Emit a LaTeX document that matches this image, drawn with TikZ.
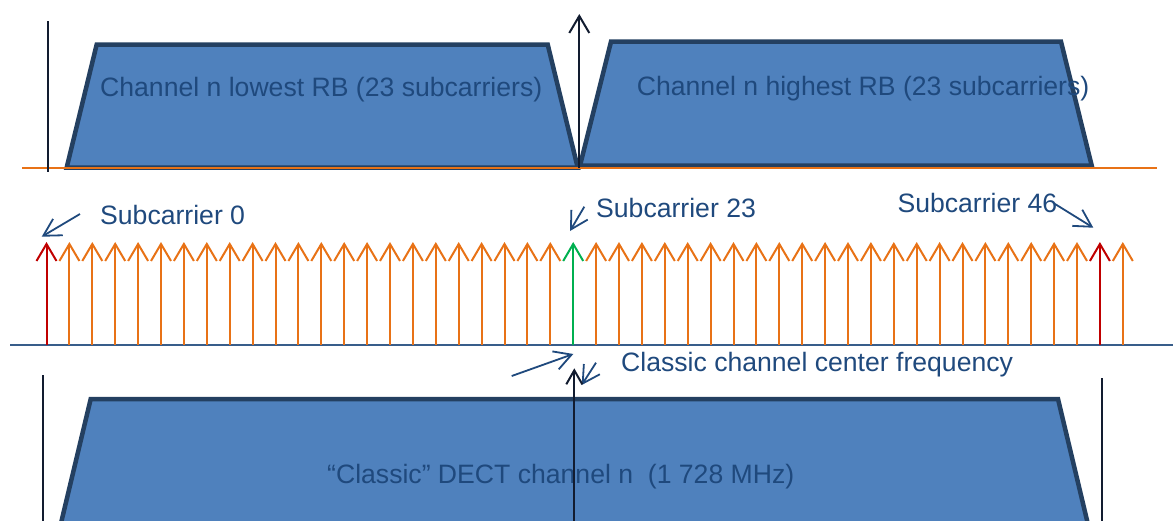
\documentclass[tikz,border=0pt]{standalone}
\usepackage{fontspec}
\setmainfont{Liberation Sans}
\usepackage{tikz}
\usetikzlibrary{arrows.meta}
\definecolor{dcfill}{RGB}{79,129,189}
\definecolor{dcedge}{RGB}{36,64,97}
\definecolor{dctext}{RGB}{31,73,125}
\definecolor{dcorange}{RGB}{232,114,22}
\definecolor{dcred}{RGB}{192,0,0}
\definecolor{dcgreen}{RGB}{0,176,80}
\definecolor{dcbase}{RGB}{56,93,138}
\definecolor{dcdark}{RGB}{18,28,48}
\tikzset{
  dcband/.style={
    draw=dcedge,
    fill=dcfill,
    line width=4.5pt
  },
  dclabel/.style={anchor=base west, inner sep=0pt, text=dctext, font=\fontsize{26.6}{30}\selectfont},
  dccarrier/.style={-{Straight Barb[length=17pt,width=20pt]}, line width=2pt, draw=dcorange},
  dcpointer/.style={-{Straight Barb[length=17pt,width=19pt]}, line width=1.8pt, draw=dctext},
  dcmarker/.style={line width=2pt, draw=dcdark},
  dcmarkarrow/.style={dcmarker, -{Straight Barb[length=17pt,width=20pt]}}
}

\begin{document}
\begin{tikzpicture}[x=1pt, y=-1pt]
\clip (0,0) rectangle (1173,520);
% upper part: one classic channel split in two RBs
\draw[dcband] (66.7,167.5) -- (96.7,44.5) -- (547.7,44.5) -- (577.7,167.5) -- cycle;
\draw[dcband] (580,165.5) -- (611,41.7) -- (1061,41.7) -- (1091.7,165.5) -- cycle;
\node[dclabel] (lowrb) at (100,96.7) {Channel n lowest RB (23 subcarriers)};
\node[dclabel] (highrb) at (636.7,95) {Channel n highest RB (23 subcarriers)};
\draw[line width=2pt, draw=dcorange] (22,168) -- (1157,168);
\draw[dcmarker] (48.3,21) -- (48.3,172);
\draw[dcmarkarrow] (579.3,168) -- (579.3,14);
% subcarriers
\draw[line width=2pt, draw=dcbase] (10,345) -- (1173,345);
\foreach \i in {1,...,22,24,25,...,45,47}
  \draw[dccarrier] (46.5+22.9*\i,345) -- ++(0,-103);
\coordinate (sc0) at (46.5,345);
\coordinate (sc23) at (573.2,345);
\coordinate (sc46) at (1099.9,345);
\draw[dccarrier, draw=dcred] (sc0) -- ++(0,-103);
\draw[dccarrier, draw=dcgreen] (sc23) -- ++(0,-103);
\draw[dccarrier, draw=dcred] (sc46) -- ++(0,-103);
\node[dclabel] (sub0) at (100,224.3) {Subcarrier 0};
\node[dclabel] (sub23) at (596,217.7) {Subcarrier 23};
\node[dclabel] (sub46) at (897.3,212.7) {Subcarrier 46};
\coordinate (p0s) at (80,214);
\coordinate (p0e) at (41.7,236.7);
\coordinate (p23s) at (584.3,206.7);
\coordinate (p23e) at (570,231);
\coordinate (p46s) at (1055,204);
\coordinate (p46e) at (1093.3,227.7);
\draw[dcpointer] (p0s) -- (p0e);
\draw[dcpointer] (p23s) -- (p23e);
\draw[dcpointer] (p46s) -- (p46e);
% centre frequency
\node[dclabel] (centre) at (621,371.5) {Classic channel center frequency};
\coordinate (pcas) at (511.7,376);
\coordinate (pcae) at (573.3,354);
\coordinate (pcbs) at (596,362.7);
\coordinate (pcbe) at (581.7,385);
\draw[dcpointer] (pcas) -- (pcae);
\draw[dcpointer] (pcbs) -- (pcbe);
% lower part: the classic channel
\draw[dcband] (52.2,560) -- (90.7,399) -- (1058,399) -- (1096.5,560) -- cycle;
\node[dclabel] (classic) at (327,483) {“Classic” DECT channel n\ \ (1 728 MHz)};
\draw[dcmarker] (43.3,375) -- (43.3,530);
\draw[dcmarker] (1102,378) -- (1102,530);
\draw[dcmarker, -{Straight Barb[length=14pt,width=16pt]}] (574.3,530) -- (574.3,368.3);
\end{tikzpicture}
\end{document}
